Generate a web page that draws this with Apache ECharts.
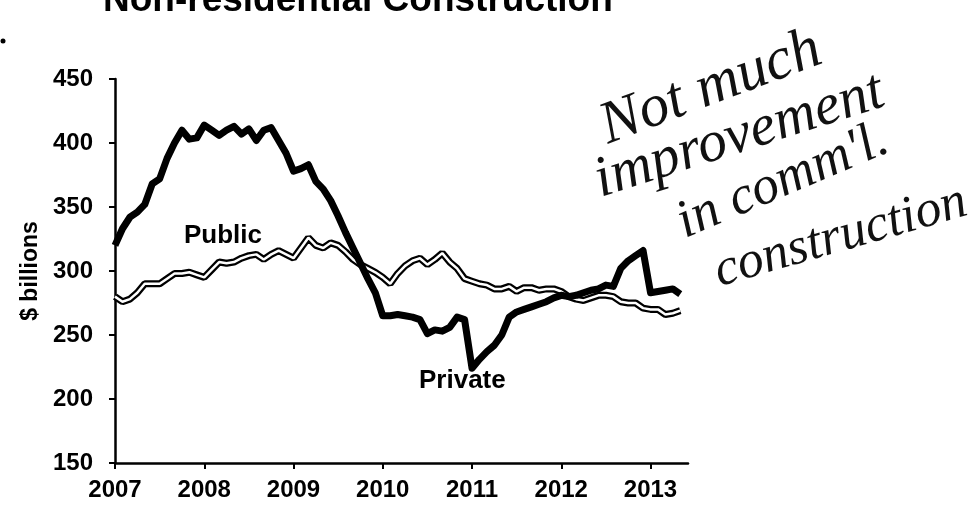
<!DOCTYPE html>
<html>
<head>
<meta charset="utf-8">
<script src="https://cdn.jsdelivr.net/npm/echarts@6/dist/echarts.min.js"></script>
<style>
    html, body { margin: 0; padding: 0; background: #fff; }
    #main { width: 975px; height: 508px; }
</style>
</head>
<body>
<div id="main"></div>
<script>
    // monthly, Jan 2007 .. May 2013
    var startYear = 2007;
    var privateVals = [
        320, 333, 342, 346, 352, 368, 372, 388, 400, 410, 403, 404,
        414, 410, 406, 410, 413, 407, 411, 402, 410, 412, 402, 392,
        378, 380, 383, 370, 364, 355, 343, 330, 318, 306, 294, 283,
        265, 265, 266, 265, 264, 262, 251, 254, 253, 256, 264, 262,
        224, 231, 237, 242, 250, 264, 268, 270, 272, 274, 276, 279,
        281, 280, 281, 283, 285, 286, 289, 288, 302, 308, 312, 316,
        283, 284, 285, 286, 282
    ];
    var publicVals = [
        280, 276, 278, 283, 290, 290, 290, 294, 298, 298, 299, 297,
        295, 301, 307, 306, 307, 310, 312, 313, 309, 313, 316, 313,
        310, 318, 326, 320, 318, 322, 320, 315, 309, 305, 302, 299,
        295, 290, 298, 304, 308, 310, 305, 309, 314, 307, 302, 294,
        292, 290, 289, 286, 286, 288, 284, 287, 287, 285, 286, 286,
        284, 280, 278, 277, 279, 281, 281, 280, 276, 275, 275, 271,
        270, 270, 266, 267, 269
    ];
    var yTicks = [150, 200, 250, 300, 350, 400, 450];
    var xYears = [2007, 2008, 2009, 2010, 2011, 2012, 2013];

    function toPairs(vals) {
        return vals.map(function (v, i) { return [startYear + i / 12, v]; });
    }

    var myChart = echarts.init(document.getElementById('main'));
    var font = '"Liberation Sans", Arial, sans-serif';
    // handwritten note -> serif italic stands in for the pen
    function hand(txt, size) {
        return { text: txt, font: 'italic ' + size + 'px "Liberation Serif", serif', fill: '#111', verticalAlign: 'bottom' };
    }

    option = {
        backgroundColor: '#fff',
        animation: false,
        grid: { left: 115, top: 79, right: 287, bottom: 45 },
        xAxis: {
            type: 'value',
            min: xYears[0],
            max: 2013.42,
            interval: 1,
            axisLine: { lineStyle: { color: '#000', width: 2.5 } },
            axisTick: { length: 6, customValues: xYears, lineStyle: { color: '#000', width: 2 } },
            splitLine: { show: false },
            axisLabel: {
                color: '#000', fontFamily: font, fontWeight: 'bold', fontSize: 24, margin: 15,
                customValues: xYears,
                formatter: function (v) { return String(v); }
            }
        },
        yAxis: {
            type: 'value',
            min: yTicks[0],
            max: yTicks[yTicks.length - 1],
            interval: 50,
            name: '$ billions',
            nameLocation: 'middle',
            nameGap: 73,
            nameTextStyle: { color: '#000', fontFamily: font, fontWeight: 'bold', fontSize: 23 },
            axisLine: { show: true, lineStyle: { color: '#000', width: 2.5 } },
            axisTick: { show: true, length: 6, lineStyle: { color: '#000', width: 2 } },
            splitLine: { show: false },
            axisLabel: { color: '#000', fontFamily: font, fontWeight: 'bold', fontSize: 24, margin: 22 }
        },
        series: [
            {
                name: 'Public outline', type: 'line', data: toPairs(publicVals),
                symbol: 'none', lineStyle: { color: '#000', width: 7 }, z: 2
            },
            {
                name: 'Public', type: 'line', data: toPairs(publicVals),
                symbol: 'none', lineStyle: { color: '#fff', width: 2.5 }, z: 3
            },
            {
                name: 'Private', type: 'line', data: toPairs(privateVals),
                symbol: 'none', lineStyle: { color: '#000', width: 7, join: 'round' }, z: 4
            }
        ],
        graphic: [
            { type: 'text', left: 103, top: -18, style: { text: 'Non-residential Construction', font: 'bold 37px "Liberation Sans", Arial, sans-serif', fill: '#000' } },
            { type: 'circle', shape: { cx: 3, cy: 41, r: 2.5 }, style: { fill: '#000' } },
            { type: 'text', left: 184, top: 223, style: { text: 'Public', font: 'bold 26px "Liberation Sans", Arial, sans-serif', fill: '#000' } },
            { type: 'text', left: 419, top: 368, style: { text: 'Private', font: 'bold 26px "Liberation Sans", Arial, sans-serif', fill: '#000' } },
            { type: 'text', x: 613, y: 157, rotation: 0.36, style: hand('Not much', 60) },
            { type: 'text', x: 605, y: 210, rotation: 0.31, style: hand('improvement', 58) },
            { type: 'text', x: 690, y: 250, rotation: 0.40, style: hand("in comm'l.", 54) },
            { type: 'text', x: 723, y: 298, rotation: 0.28, style: hand('construction', 52) }
        ]
    };
    myChart.setOption(option);
</script>
</body>
</html>
